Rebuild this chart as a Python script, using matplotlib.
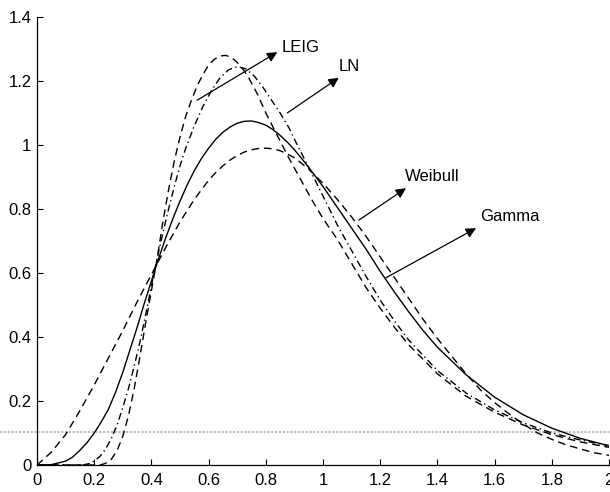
import matplotlib
matplotlib.use('Agg')
import matplotlib.pyplot as plt
import matplotlib.transforms as mtransforms

plt.rcParams['font.family'] = ['Liberation Sans', 'DejaVu Sans']

# values
weibull_x = [0, 0.05, 0.1, 0.15, 0.2, 0.25, 0.3, 0.35, 0.4, 0.45, 0.5, 0.55, 0.6, 0.625, 0.65,
             0.675, 0.7, 0.725, 0.75, 0.775, 0.8, 0.825, 0.85, 0.875, 0.9, 0.95, 1.0, 1.05,
             1.1, 1.15, 1.2, 1.25, 1.3, 1.35, 1.4, 1.45, 1.5, 1.55, 1.6, 1.65, 1.7, 1.75,
             1.8, 1.85, 1.9, 1.95, 2.0]
weibull_y = [0, 0.04, 0.095, 0.17, 0.25, 0.335, 0.42, 0.51, 0.595, 0.68, 0.76, 0.83, 0.89, 0.914, 0.935,
             0.953, 0.967, 0.978, 0.985, 0.989, 0.99, 0.988, 0.982, 0.972, 0.96, 0.925, 0.88, 0.83,
             0.775, 0.715, 0.65, 0.585, 0.52, 0.455, 0.395, 0.34, 0.285, 0.235, 0.195, 0.16, 0.128, 0.1,
             0.08, 0.063, 0.05, 0.038, 0.03]

gamma_x = [0, 0.05, 0.1, 0.125, 0.15, 0.175, 0.2, 0.225, 0.25, 0.275, 0.3, 0.325, 0.35, 0.375,
           0.4, 0.425, 0.45, 0.475, 0.5, 0.525, 0.55, 0.575, 0.6, 0.625, 0.65, 0.675, 0.7,
           0.725, 0.75, 0.775, 0.8, 0.825, 0.85, 0.875, 0.9, 0.925, 0.95, 1.0, 1.05, 1.1,
           1.15, 1.2, 1.25, 1.3, 1.35, 1.4, 1.5, 1.6, 1.7, 1.8, 1.9, 2.0]
gamma_y = [0, 0.001, 0.012, 0.025, 0.046, 0.07, 0.1, 0.135, 0.175, 0.228, 0.29, 0.36, 0.43, 0.505,
           0.575, 0.645, 0.71, 0.77, 0.825, 0.875, 0.92, 0.958, 0.99, 1.018, 1.04, 1.056, 1.068,
           1.074, 1.075, 1.07, 1.062, 1.048, 1.03, 1.009, 0.985, 0.958, 0.93, 0.87, 0.805, 0.74,
           0.675, 0.605, 0.54, 0.478, 0.42, 0.368, 0.282, 0.212, 0.157, 0.115, 0.083, 0.06]

ln_x = [0, 0.16, 0.18, 0.2, 0.22, 0.24, 0.26, 0.28, 0.3, 0.32, 0.34, 0.36, 0.38, 0.4, 0.42,
        0.44, 0.46, 0.48, 0.5, 0.52, 0.55, 0.58, 0.61, 0.64, 0.67, 0.7, 0.73, 0.76, 0.79,
        0.82, 0.85, 0.88, 0.91, 0.95, 1.0, 1.05, 1.1, 1.15, 1.2, 1.25, 1.3, 1.4, 1.5,
        1.6, 1.7, 1.8, 1.9, 2.0]
ln_y = [0, 0, 0.004, 0.012, 0.027, 0.05, 0.083, 0.125, 0.18, 0.24, 0.31, 0.385, 0.47, 0.56, 0.645,
        0.725, 0.8, 0.87, 0.935, 0.99, 1.06, 1.12, 1.17, 1.21, 1.235, 1.245, 1.238, 1.215, 1.18,
        1.14, 1.1, 1.055, 1.0, 0.93, 0.84, 0.75, 0.67, 0.59, 0.515, 0.45, 0.39, 0.295, 0.225,
        0.172, 0.132, 0.1, 0.078, 0.06]

leig_x = [0, 0.22, 0.24, 0.26, 0.28, 0.3, 0.32, 0.34, 0.36, 0.38, 0.4, 0.42, 0.44, 0.46,
          0.48, 0.5, 0.52, 0.54, 0.56, 0.58, 0.6, 0.62, 0.64, 0.66, 0.68, 0.7, 0.72, 0.74,
          0.77, 0.8, 0.84, 0.88, 0.92, 0.96, 1.0, 1.05, 1.1, 1.15, 1.2, 1.25, 1.3, 1.4,
          1.5, 1.6, 1.7, 1.8, 1.9, 2.0]
leig_y = [0, 0, 0.005, 0.018, 0.045, 0.09, 0.155, 0.24, 0.34, 0.445, 0.545, 0.645, 0.76, 0.86,
          0.95, 1.025, 1.09, 1.14, 1.185, 1.22, 1.25, 1.268, 1.278, 1.28, 1.273, 1.258, 1.237, 1.21,
          1.16, 1.1, 1.03, 0.96, 0.895, 0.83, 0.77, 0.705, 0.63, 0.555, 0.49, 0.43, 0.375, 0.285,
          0.215, 0.165, 0.125, 0.095, 0.072, 0.055]

labels = ['LEIG', 'LN', 'Weibull', 'Gamma']
arrow_tail = [(0.56, 1.14), (0.875, 1.10), (1.125, 0.765), (1.22, 0.585)]
arrow_head = [(0.84, 1.29), (1.055, 1.21), (1.29, 0.865), (1.535, 0.74)]
label_pos = [(0.855, 1.305), (1.055, 1.245), (1.285, 0.9), (1.55, 0.775)]

xticks = [0, 0.2, 0.4, 0.6, 0.8, 1.0, 1.2, 1.4, 1.6, 1.8, 2.0]
xticklabels = ['0', '0.2', '0.4', '0.6', '0.8', '1', '1.2', '1.4', '1.6', '1.8', '2']
yticks = [0, 0.2, 0.4, 0.6, 0.8, 1.0, 1.2, 1.4]
yticklabels = ['0', '0.2', '0.4', '0.6', '0.8', '1', '1.2', '1.4']

fig = plt.figure(figsize=(6.1, 4.92), dpi=100)
ax = fig.add_axes([0.0607, 0.0549, 0.9377, 0.9106])

# scanner streak across the page
trans = mtransforms.blended_transform_factory(fig.transFigure, ax.transData)
ax.plot([0, 1], [0.102, 0.102], transform=trans, color='#a8a8a8', lw=1.1,
        ls=(0, (1.5, 1)), clip_on=False, zorder=0)

ax.plot(weibull_x, weibull_y, color='k', lw=1.0, dashes=[5.5, 3.5])
ax.plot(gamma_x, gamma_y, color='k', lw=1.0)
ax.plot(ln_x, ln_y, color='k', lw=1.0, dashes=[5, 2.5, 1, 2.5])
ax.plot(leig_x, leig_y, color='k', lw=1.0, dashes=[5.5, 3.5])

for lab, t, h, p in zip(labels, arrow_tail, arrow_head, label_pos):
    ax.annotate('', xy=h, xytext=t,
                arrowprops=dict(arrowstyle='-|>', color='k', lw=0.9,
                                mutation_scale=15, shrinkA=0, shrinkB=0))
    ax.text(p[0], p[1], lab, fontsize=12, ha='left', va='center')

ax.set_xlim(0, 2)
ax.set_ylim(0, 1.4)
ax.set_xticks(xticks)
ax.set_xticklabels(xticklabels)
ax.set_yticks(yticks)
ax.set_yticklabels(yticklabels)
ax.tick_params(direction='in', length=4, width=0.8, labelsize=12)
ax.tick_params(axis='x', pad=6)
ax.tick_params(axis='y', pad=4)
ax.spines['top'].set_visible(False)
ax.spines['right'].set_visible(False)
ax.spines['left'].set_linewidth(0.9)
ax.spines['bottom'].set_linewidth(0.9)

fig.savefig('out.png', dpi=100)
